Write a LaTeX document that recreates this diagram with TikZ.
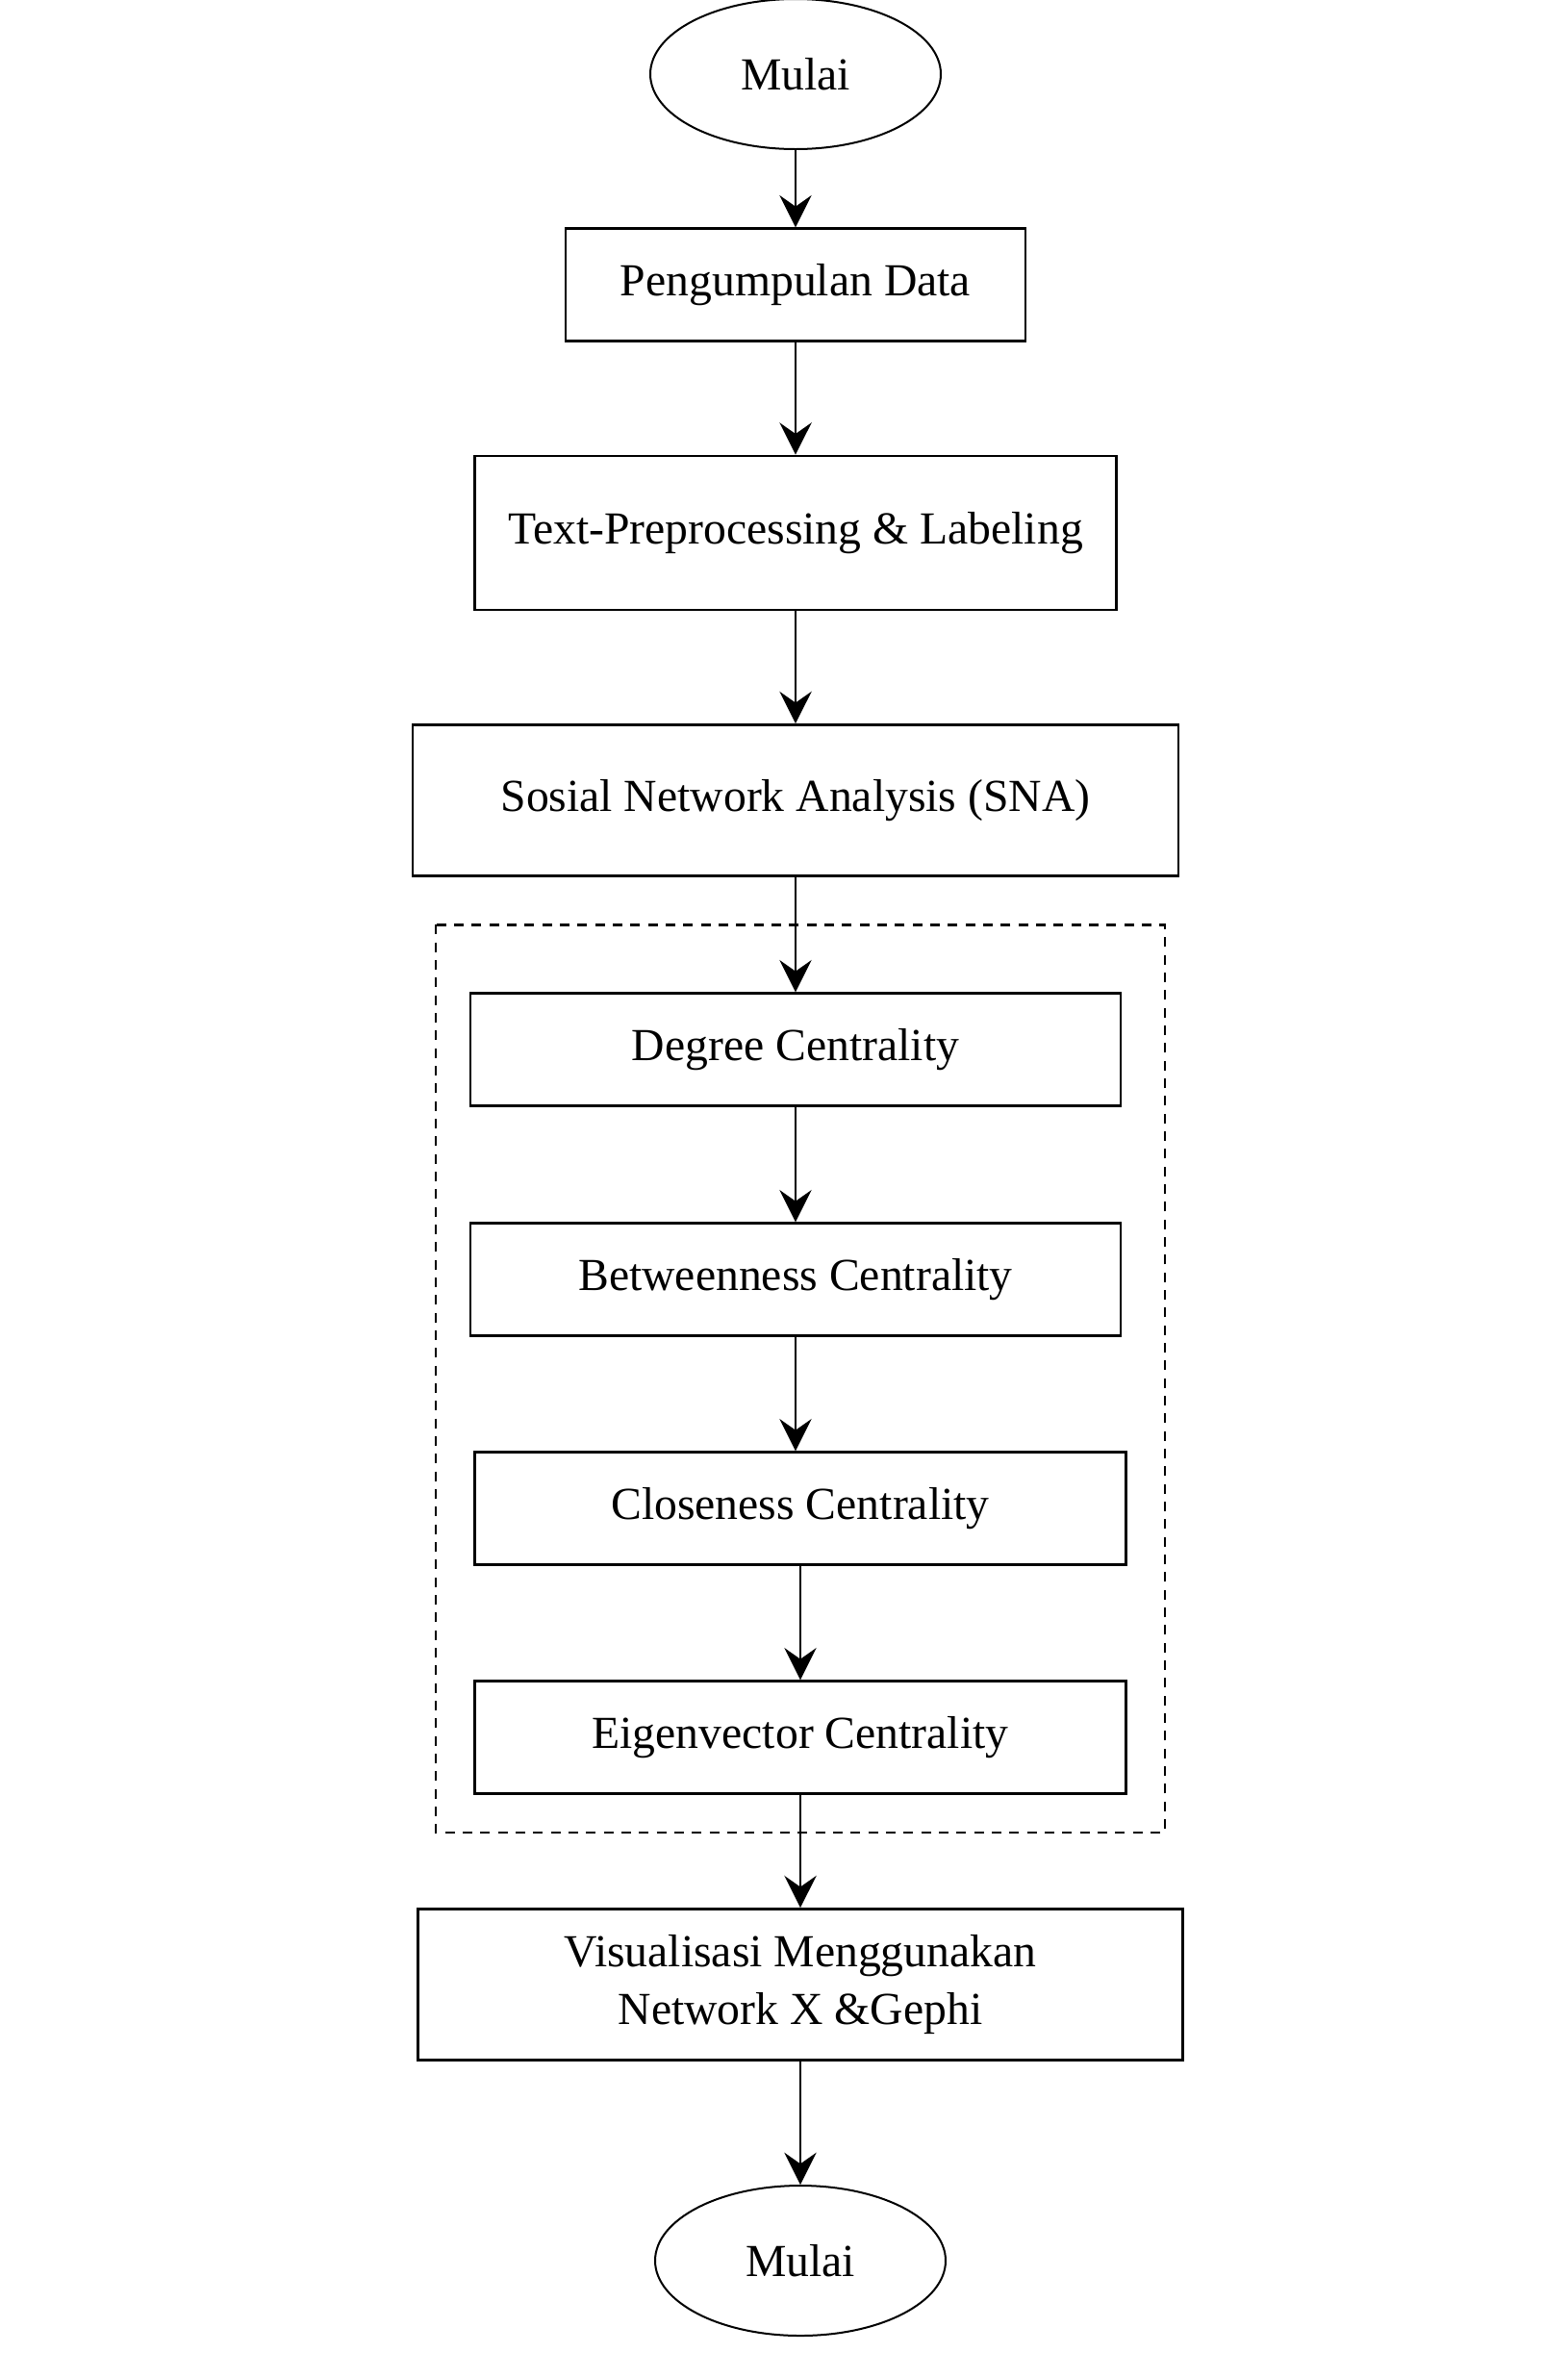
\documentclass[tikz,border=0pt]{standalone}
\usepackage{fontspec}
\setmainfont{Liberation Serif}
\usepackage{tikz}
\usetikzlibrary{positioning,calc,arrows.meta,fit}
\usetikzlibrary{shapes.geometric}
\tikzset{
    every node/.style={font=\fontsize{14.3}{18}\selectfont},
    terminal/.style={draw, ellipse, line width=0.6pt, minimum width=90.6pt, minimum height=46.8pt, inner sep=0pt},
    procbox/.style={draw, rectangle, line width=0.8pt, minimum height=35pt, inner sep=3pt, align=center},
    arrow/.style={-{Stealth[length=10pt, width=10pt, inset=3.5pt]}, line width=0.6pt},
}

\begin{document}
\begin{tikzpicture}[node distance=72pt]
\useasboundingbox (0,0) rectangle (489pt,-741.6pt);
\node[terminal] (start) at (248.1pt,-23.1pt) {Mulai};
% main process boxes, one under the other
\node[procbox, minimum width=143.4pt, below of=start, node distance=65.7pt] (collect) {Pengumpulan Data};
\node[procbox, minimum width=200.1pt, minimum height=48pt, below of=collect, node distance=77.4pt] (prep) {Text-Preprocessing \& Labeling};
\node[procbox, minimum width=238.8pt, minimum height=47.1pt, below of=prep, node distance=83.4pt] (sna) {Sosial Network Analysis (SNA)};
% the four centrality measures
\node[procbox, minimum width=202.8pt, below of=sna, node distance=77.7pt] (degree) {Degree Centrality};
\node[procbox, minimum width=202.8pt, below of=degree, node distance=71.7pt] (betw) {Betweenness Centrality};
\node[procbox, minimum width=203pt, below of=betw, node distance=71.4pt, xshift=1.5pt] (close) {Closeness Centrality};
\node[procbox, minimum width=203pt, below of=close, node distance=71.4pt] (eigen) {Eigenvector Centrality};
\node[procbox, minimum width=238.5pt, minimum height=47.1pt, below of=eigen, node distance=77.1pt] (vis) {Visualisasi Menggunakan\\Network X \&Gephi};
\node[terminal, below of=vis, node distance=86.1pt] (end) {Mulai};
% dashed frame round the centrality boxes
\draw[dash pattern=on 3pt off 2.5pt, line width=0.7pt] ($(degree.north west)+(-10.5pt,21pt)$) rectangle ($(eigen.south east)+(11.7pt,-11.7pt)$);
\draw[arrow] (start) -- (collect);
\draw[arrow] (collect) -- (prep);
\draw[arrow] (prep) -- (sna);
\draw[arrow] (sna) -- (degree);
\draw[arrow] (degree) -- (betw);
\draw[arrow] (betw.south) -- (betw.south |- close.north);
\draw[arrow] (close) -- (eigen);
\draw[arrow] (eigen) -- (vis);
\draw[arrow] (vis) -- (end);
\end{tikzpicture}
\end{document}
